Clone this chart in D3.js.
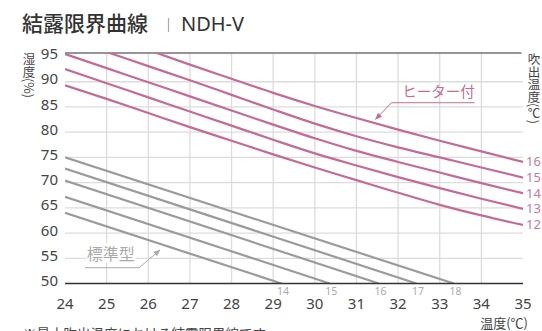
<!DOCTYPE html>
<html>
<head>
<meta charset="utf-8">
<script src="https://cdn.jsdelivr.net/npm/d3@7"></script>
<style>
  body { margin: 0; background: #fff; }
  svg { display: block; }
  text { font-family: "Noto Sans", "Noto Sans CJK JP", sans-serif; }
  .jp { font-family: "Noto Sans CJK JP", sans-serif; }
</style>
</head>
<body>
<div id="chart"></div>
<script>
// ---- data ----
var xTicks = [24, 25, 26, 27, 28, 29, 30, 31, 32, 33, 34, 35];
var yTicks = [50, 55, 60, 65, 70, 75, 80, 85, 90, 95];

// ヒーター付 curves, humidity at each integer temperature (null = off chart)
var heaterX = [24, 25, 26, 27, 28, 29, 30, 31, 32, 33, 34, 35];
var heaterTemps = [12, 13, 14, 15, 16];
var heater12 = [89.3, 86.6, 83.8, 81.0, 78.3, 75.6, 73.0, 70.5, 68.0, 65.6, 63.5, 61.6];
var heater13 = [92.5, 89.7, 86.9, 84.1, 81.3, 78.5, 75.8, 73.4, 71.1, 68.9, 66.8, 64.8];
var heater14 = [95.5, 92.7, 89.9, 87.1, 84.3, 81.5, 78.8, 76.3, 74.1, 72.0, 69.9, 67.9];
var heater15 = [null, 95.9, 93.1, 90.3, 87.4, 84.5, 81.7, 79.2, 77.0, 75.0, 73.0, 71.0];
var heater16 = [null, null, 96.3, 93.4, 90.6, 87.8, 85.2, 82.8, 80.5, 78.3, 76.2, 74.1];

// 標準型 straight lines: humidity at 24℃ and temperature where they reach 50%
var standardTemps = [14, 15, 16, 17, 18];
var standardStart = [64.0, 67.2, 70.4, 72.8, 75.0];
var standardEndX = [29.2, 30.36, 31.54, 32.44, 33.34];

const width = 542, height = 331;
const pink = "#c46c94", gray = "#9b9b9b";

const svg = d3.select("#chart").append("svg")
    .attr("width", width)
    .attr("height", height);

const x = d3.scaleLinear().domain([24, 35]).range([65, 523]);
const y = d3.scaleLinear().domain([50, 95.7]).range([283.5, 53]);

// title
svg.append("text").attr("class", "jp")
    .attr("x", 22).attr("y", 31)
    .attr("font-size", 21).attr("font-weight", 500).attr("fill", "#333")
    .text("結露限界曲線");
svg.append("line")
    .attr("x1", 168.5).attr("x2", 168.5).attr("y1", 18).attr("y2", 32)
    .attr("stroke", "#aaa").attr("stroke-width", 1.2);
svg.append("text")
    .attr("x", 181).attr("y", 31)
    .attr("font-size", 20).attr("fill", "#333")
    .text("NDH-V");

// grid
const grid = svg.append("g");
grid.selectAll(".vg")
    .data(xTicks.filter(d => d > 24 && d < 35))
    .enter().append("line")
    .attr("x1", d => x(d)).attr("x2", d => x(d))
    .attr("y1", y(95.7)).attr("y2", y(50))
    .attr("stroke", "#dcdcdc").attr("stroke-width", 1.3);
grid.selectAll(".hg")
    .data(yTicks.filter(d => d > 50 && d < 95))
    .enter().append("line")
    .attr("x1", x(24)).attr("x2", x(35))
    .attr("y1", d => y(d)).attr("y2", d => y(d))
    .attr("stroke", "#dcdcdc").attr("stroke-width", 1.3);

// top frame line
svg.append("line")
    .attr("x1", x(24)).attr("x2", x(35) - 1.5)
    .attr("y1", y(95.7)).attr("y2", y(95.7))
    .attr("stroke", "#7a7070").attr("stroke-width", 1.6);

// tick labels
svg.selectAll(".ytl")
    .data(yTicks)
    .enter().append("text")
    .attr("x", 58).attr("y", d => y(d) + 2.6)
    .attr("text-anchor", "end")
    .attr("font-size", 15).attr("fill", "#444")
    .text(d => d);
svg.selectAll(".xtl")
    .data(xTicks)
    .enter().append("text")
    .attr("x", d => x(d)).attr("y", 308.5)
    .attr("text-anchor", "middle")
    .attr("font-size", 15).attr("fill", "#444")
    .text(d => d);

// clip to plot
svg.append("defs").append("clipPath").attr("id", "plot")
    .append("rect")
    .attr("x", x(24)).attr("y", y(95.7))
    .attr("width", x(35) - x(24)).attr("height", y(50) - y(95.7));

// markers
const defs = svg.select("defs");
[["arrPink", pink], ["arrGray", "#aaa"]].forEach(function (m) {
    defs.append("marker")
        .attr("id", m[0])
        .attr("viewBox", "0 0 10 10")
        .attr("refX", 9).attr("refY", 5)
        .attr("markerWidth", 7).attr("markerHeight", 7)
        .attr("markerUnits", "userSpaceOnUse")
        .attr("orient", "auto")
        .append("path")
        .attr("d", "M0,1 L10,5 L0,9 Z")
        .attr("fill", m[1]);
});

const lines = svg.append("g").attr("clip-path", "url(#plot)");

// 標準型
standardTemps.forEach(function (t, i) {
    lines.append("line")
        .attr("x1", x(24)).attr("y1", y(standardStart[i]))
        .attr("x2", x(standardEndX[i])).attr("y2", y(50))
        .attr("stroke", gray).attr("stroke-width", 2.2);
});

// ヒーター付
const heaterSeries = [heater12, heater13, heater14, heater15, heater16];
const lineGen = d3.line()
    .defined(d => d[1] != null)
    .x(d => x(d[0]))
    .y(d => y(d[1]))
    .curve(d3.curveMonotoneX);
heaterSeries.forEach(function (vals) {
    const pts = heaterX.map((v, i) => [v, vals[i]]);
    lines.append("path")
        .datum(pts)
        .attr("d", lineGen)
        .attr("fill", "none")
        .attr("stroke", pink).attr("stroke-width", 2.2);
});

// bottom axis line
svg.append("line")
    .attr("x1", x(24)).attr("x2", x(35))
    .attr("y1", y(50)).attr("y2", y(50))
    .attr("stroke", "#333").attr("stroke-width", 1.6);

// end labels
heaterSeries.forEach(function (vals, i) {
    svg.append("text")
        .attr("x", x(35) + 3).attr("y", y(vals[vals.length - 1]) + 4.5)
        .attr("font-size", 13).attr("fill", "#c77a9c")
        .text(heaterTemps[i]);
});
standardTemps.forEach(function (t, i) {
    svg.append("text")
        .attr("x", x(standardEndX[i]) + 1.5).attr("y", 295)
        .attr("text-anchor", "middle")
        .attr("font-size", 10.5).attr("fill", "#aaa")
        .text(t);
});

// annotation: ヒーター付
svg.append("text").attr("class", "jp")
    .attr("x", x(33.84)).attr("y", y(86.97))
    .attr("text-anchor", "end")
    .attr("font-size", 14.5).attr("fill", pink)
    .text("ヒーター付");
svg.append("path")
    .attr("d", d3.line()([[x(33.84), y(85.84)], [x(31.84), y(85.84)], [x(31.46), y(82.55)]]))
    .attr("fill", "none").attr("stroke", pink).attr("stroke-width", 1)
    .attr("marker-end", "url(#arrPink)");

// annotation: 標準型
const stdText = svg.append("text").attr("class", "jp")
    .attr("x", x(24.52)).attr("y", y(54.7))
    .attr("font-size", 16).attr("fill", "#aaa")
    .text("標準型");
const bb = stdText.node().getBBox();
svg.insert("rect", "text:last-of-type")
    .attr("x", bb.x - 1).attr("y", bb.y + 2)
    .attr("width", bb.width + 2).attr("height", bb.height - 4)
    .attr("fill", "#fff");
stdText.raise();
svg.append("path")
    .attr("d", d3.line()([[x(24.48), y(53.13)], [x(25.78), y(53.13)], [x(26.28), y(56.64)]]))
    .attr("fill", "none").attr("stroke", "#aaa").attr("stroke-width", 1)
    .attr("marker-end", "url(#arrGray)");

// axis titles (vertical)
svg.append("text").attr("class", "jp")
    .attr("x", 29).attr("y", 53)
    .attr("writing-mode", "vertical-rl")
    .attr("font-size", 12.5).attr("fill", "#444")
    .text("湿度(%)");
svg.append("text").attr("class", "jp")
    .attr("x", 534).attr("y", 53)
    .attr("writing-mode", "vertical-rl")
    .attr("font-size", 12.5).attr("fill", "#444")
    .text("吹出温度(℃)");
svg.append("text").attr("class", "jp")
    .attr("x", 528).attr("y", 328)
    .attr("text-anchor", "end")
    .attr("font-size", 13).attr("fill", "#444")
    .text("温度(℃)");

// footnote (cut off at the bottom edge, as in the reference)
svg.append("text").attr("class", "jp")
    .attr("x", 23).attr("y", 339)
    .attr("font-size", 13.5).attr("fill", "#444")
    .text("※最小吹出温度における結露限界線です。");
</script>
</body>
</html>
